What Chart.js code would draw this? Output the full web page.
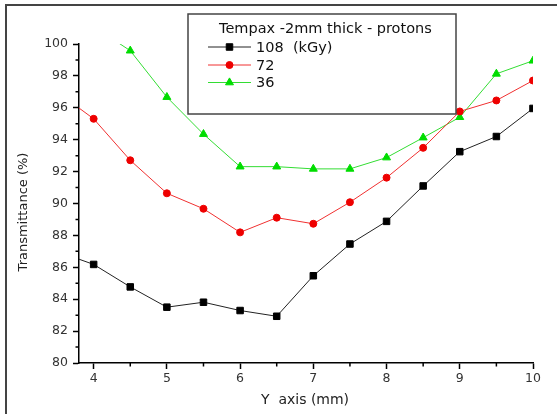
<!DOCTYPE html>
<html>
<head>
<meta charset="utf-8">
<script src="https://cdn.jsdelivr.net/npm/chart.js@4"></script>
<style>
  body { margin: 0; background: #fff; }
  #wrap { width: 557px; height: 414px; }
</style>
</head>
<body>
<div id="wrap"><canvas id="chart" width="557" height="414"></canvas></div>
<script>
// Dados
const yPos = [3.5, 4, 4.5, 5, 5.5, 6, 6.5, 7, 7.5, 8, 8.5, 9, 9.5, 10];
const dose108 = [87.0, 86.18, 84.77, 83.50, 83.81, 83.29, 82.93, 85.47, 87.46, 88.88, 91.10, 93.25, 94.20, 95.96];
const dose72 = [97.0, 95.31, 92.71, 90.64, 89.67, 88.19, 89.11, 88.73, 90.08, 91.62, 93.49, 95.77, 96.46, 97.71];
const dose36 = [null, 101.1, 99.58, 96.67, 94.35, 92.31, 92.31, 92.17, 92.17, 92.88, 94.13, 95.41, 98.13, 98.95];
const seriesLabels = ['108  (kGy)', '72', '36'];
const legendTitle = 'Tempax -2mm thick - protons';
const xTicks = [4, 5, 6, 7, 8, 9, 10];
const xMinor = [4.5, 5.5, 6.5, 7.5, 8.5, 9.5];
const yTicks = [80, 82, 84, 86, 88, 90, 92, 94, 96, 98, 100];
const yMinor = [81, 83, 85, 87, 89, 91, 93, 95, 97, 99];
const xTitle = 'Y  axis (mm)';
const yTitle = 'Transmittance (%)';

const FONT = "'DejaVu Sans', sans-serif";

const toPoints = vals => yPos.map((x, i) => ({ x: x, y: vals[i] })).filter(p => p.y !== null);

// Moldura, ticks menores, títulos e legenda
const extras = {
    id: 'extras',
    afterDraw(chart) {
        const ctx = chart.ctx;
        const xs = chart.scales.x, ys = chart.scales.y;
        const area = chart.chartArea;
        ctx.save();

        // moldura externa
        ctx.strokeStyle = '#444';
        ctx.lineWidth = 2;
        ctx.beginPath();
        ctx.moveTo(6, 414);
        ctx.lineTo(6, 5);
        ctx.lineTo(557, 5);
        ctx.stroke();

        // ticks menores
        ctx.strokeStyle = '#000';
        ctx.lineWidth = 1.5;
        ctx.beginPath();
        xMinor.forEach(v => {
            const px = xs.getPixelForValue(v);
            ctx.moveTo(px, area.bottom);
            ctx.lineTo(px, area.bottom + 3.5);
        });
        yMinor.forEach(v => {
            const py = ys.getPixelForValue(v);
            ctx.moveTo(area.left, py);
            ctx.lineTo(area.left - 3.5, py);
        });
        ctx.stroke();

        // títulos dos eixos
        ctx.fillStyle = '#222';
        ctx.textAlign = 'center';
        ctx.textBaseline = 'middle';
        ctx.font = '14px ' + FONT;
        ctx.fillText(xTitle, 305, 400);
        ctx.save();
        ctx.translate(24, 212);
        ctx.rotate(-Math.PI / 2);
        ctx.font = '13px ' + FONT;
        ctx.fillText(yTitle, 0, 0);
        ctx.restore();

        // legenda
        ctx.fillStyle = '#fff';
        ctx.fillRect(188, 14, 268, 100);
        ctx.strokeStyle = '#444';
        ctx.lineWidth = 1.5;
        ctx.strokeRect(188, 14, 268, 100);
        ctx.fillStyle = '#111';
        ctx.textAlign = 'left';
        ctx.font = '14.5px ' + FONT;
        ctx.fillText(legendTitle, 219, 29);
        const rows = [47, 65, 82.5];
        chart.data.datasets.forEach((ds, i) => {
            const y = rows[i];
            ctx.strokeStyle = ds.borderColor;
            ctx.lineWidth = 1;
            ctx.beginPath();
            ctx.moveTo(208, y);
            ctx.lineTo(251, y);
            ctx.stroke();
            ctx.fillStyle = ds.pointBackgroundColor;
            ctx.strokeStyle = ds.pointBackgroundColor;
            Chart.helpers.drawPoint(ctx, {
                pointStyle: ds.pointStyle,
                radius: ds.pointRadius,
                rotation: 0,
                borderWidth: 1
            }, 229.5, y);
            ctx.fillStyle = '#111';
            ctx.fillText(seriesLabels[i], 256, y + 1);
        });
        ctx.restore();
    }
};

const ctx = document.getElementById('chart').getContext('2d');
new Chart(ctx, {
    type: 'line',
    data: {
        datasets: [{
            label: seriesLabels[0],
            data: toPoints(dose108),
            borderColor: '#222',
            borderWidth: 1,
            pointStyle: 'rect',
            pointRadius: 4.6,
            pointBackgroundColor: '#000',
            pointBorderColor: '#000',
            pointBorderWidth: 1
        }, {
            label: seriesLabels[1],
            data: toPoints(dose72),
            borderColor: '#f03030',
            borderWidth: 1,
            pointStyle: 'circle',
            pointRadius: 3.5,
            pointBackgroundColor: '#ee0000',
            pointBorderColor: '#ee0000',
            pointBorderWidth: 1
        }, {
            label: seriesLabels[2],
            data: toPoints(dose36),
            borderColor: '#33dd33',
            borderWidth: 1,
            pointStyle: 'triangle',
            pointRadius: 4.6,
            pointBackgroundColor: '#00dd00',
            pointBorderColor: '#00dd00',
            pointBorderWidth: 1
        }]
    },
    options: {
        responsive: false,
        animation: false,
        events: [],
        layout: { padding: { left: 0, top: 44, right: 24, bottom: 0 } },
        plugins: { legend: { display: false }, tooltip: { enabled: false } },
        scales: {
            x: {
                type: 'linear',
                min: 3.8,
                max: 10,
                afterBuildTicks: s => { s.ticks = xTicks.map(v => ({ value: v })); },
                afterFit: s => { s.height = 51; },
                grid: { drawOnChartArea: false, drawTicks: true, tickLength: 6, tickColor: '#000', tickWidth: 1.5 },
                border: { display: true, color: '#000', width: 1.5 },
                ticks: { color: '#333', font: { family: FONT, size: 12.5 }, padding: 2, maxRotation: 0 }
            },
            y: {
                type: 'linear',
                min: 80,
                max: 100,
                afterBuildTicks: s => { s.ticks = yTicks.map(v => ({ value: v })); },
                afterFit: s => { s.width = 79; },
                grid: { drawOnChartArea: false, drawTicks: true, tickLength: 6, tickColor: '#000', tickWidth: 1.5 },
                border: { display: true, color: '#000', width: 1.5 },
                ticks: { color: '#333', font: { family: FONT, size: 12.5 }, padding: 5 }
            }
        }
    },
    plugins: [extras]
});
</script>
</body>
</html>
